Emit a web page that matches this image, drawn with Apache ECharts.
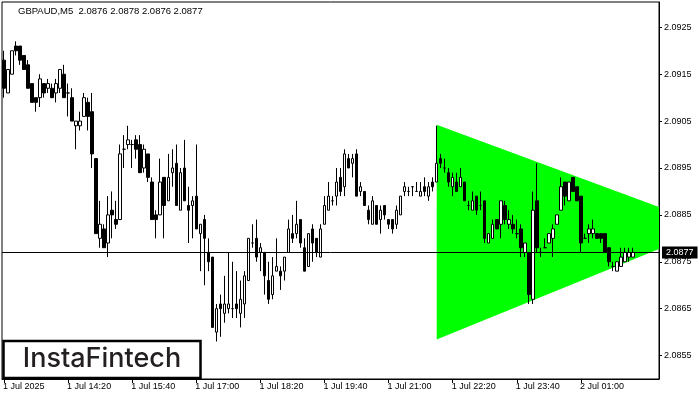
<!DOCTYPE html>
<html><head><meta charset="utf-8">
<script src="https://cdn.jsdelivr.net/npm/echarts@6/dist/echarts.min.js"></script>
<style>html,body{margin:0;padding:0;background:#fff}#c{width:700px;height:400px}</style>
</head><body><div id="c"></div>
<script>
const symbolTitle = 'GBPAUD,M5  2.0876 2.0878 2.0876 2.0877';
const currentPrice = 2.0877;
const xTickLabels = ['1 Jul 2025','1 Jul 14:20','1 Jul 15:40','1 Jul 17:00','1 Jul 18:20','1 Jul 19:40','1 Jul 21:00','1 Jul 22:20','1 Jul 23:40','2 Jul 01:00'];
const yTicks = [2.0855,2.0865,2.0875,2.0885,2.0895,2.0905,2.0915,2.0925];
const yMin = 2.08500, yMax = 2.09304;
const barCount = 164;

const openP = [2.0918,2.0911,2.0915,2.0921,2.0921,2.0919,2.0917,2.0913,2.0910,2.0910,
2.0913,2.0912,2.0912,2.0911,2.0912,2.0915,2.0911,2.0910,2.0904,2.0904,
2.0906,2.0909,2.0907,2.0897,2.0880,2.0882,2.0879,2.0886,2.0884,2.0884,
2.0899,2.0900,2.0900,2.0901,2.0900,2.0895,2.0898,2.0892,2.0885,2.0885,
2.0893,2.0888,2.0894,2.0896,2.0886,2.0895,2.0887,2.0887,2.0889,2.0881,
2.0884,2.0877,2.0876,2.0860,2.0866,2.0864,2.0865,2.0865,2.0866,2.0864,
2.0866,2.0871,2.0879,2.0880,2.0877,2.0877,2.0871,2.0868,2.0873,2.0873,
2.0873,2.0877,2.0881,2.0881,2.0884,2.0878,2.0874,2.0882,2.0880,2.0876,
2.0883,2.0886,2.0888,2.0889,2.0893,2.0891,2.0897,2.0896,2.0898,2.0890,
2.0890,2.0886,2.0883,2.0887,2.0884,2.0887,2.0884,2.0884,2.0883,2.0885,
2.0890,2.0890,2.0891,2.0890,2.0889,2.0891,2.0889,2.0892,2.0892,2.0897,
2.0895,2.0894,2.0891,2.0892,2.0891,2.0892,2.0887,2.0886,2.0889,2.0887,
2.0888,2.0879,2.0880,2.0884,2.0883,2.0887,2.0883,2.0883,2.0881,2.0882,
2.0877,2.0877,2.0867,2.0888,2.0877,2.0878,2.0879,2.0880,2.0883,2.0886,
2.0892,2.0888,2.0893,2.0891,2.0889,2.0880,2.0881,2.0881,2.0881,2.0881,
2.0881,2.0878,2.0874,2.0873,2.0874,2.0875,2.0876,2.0876];
const closeP = [2.0912,2.0916,2.0920,2.0920,2.0918,2.0916,2.0912,2.0909,2.0909,2.0914,
2.0911,2.0913,2.0910,2.0913,2.0916,2.0910,2.0911,2.0905,2.0905,2.0905,
2.0910,2.0906,2.0898,2.0881,2.0883,2.0878,2.0885,2.0885,2.0883,2.0898,
2.0899,2.0901,2.0900,2.0899,2.0894,2.0899,2.0893,2.0884,2.0884,2.0892,
2.0887,2.0893,2.0895,2.0887,2.0894,2.0888,2.0886,2.0888,2.0882,2.0883,
2.0880,2.0875,2.0861,2.0865,2.0865,2.0866,2.0866,2.0865,2.0865,2.0867,
2.0872,2.0880,2.0879,2.0876,2.0878,2.0872,2.0867,2.0872,2.0874,2.0872,
2.0876,2.0882,2.0880,2.0883,2.0879,2.0873,2.0881,2.0879,2.0877,2.0882,
2.0887,2.0889,2.0888,2.0892,2.0890,2.0898,2.0895,2.0897,2.0889,2.0891,
2.0887,2.0884,2.0888,2.0883,2.0886,2.0885,2.0883,2.0882,2.0886,2.0889,
2.0891,2.0890,2.0891,2.0890,2.0890,2.0890,2.0891,2.0891,2.0896,2.0896,
2.0895,2.0892,2.0893,2.0890,2.0893,2.0888,2.0887,2.0888,2.0886,2.0887,
2.0880,2.0881,2.0883,2.0882,2.0888,2.0884,2.0884,2.0882,2.0881,2.0878,
2.0879,2.0868,2.0886,2.0878,2.0877,2.0878,2.0881,2.0882,2.0885,2.0891,
2.0889,2.0892,2.0890,2.0888,2.0879,2.0880,2.0882,2.0882,2.0880,2.0880,
2.0877,2.0875,2.0874,2.0875,2.0876,2.0877,2.0877,2.0877];
const highP = [2.0920,2.0916,2.0920,2.0922,2.0921,2.0919,2.0918,2.0913,2.0910,2.0915,
2.0913,2.0914,2.0913,2.0914,2.0916,2.0917,2.0913,2.0912,2.0905,2.0907,
2.0911,2.0910,2.0911,2.0897,2.0888,2.0883,2.0889,2.0890,2.0888,2.0900,
2.0902,2.0904,2.0901,2.0902,2.0902,2.0900,2.0898,2.0893,2.0886,2.0897,
2.0893,2.0898,2.0899,2.0900,2.0895,2.0901,2.0891,2.0889,2.0900,2.0883,
2.0885,2.0880,2.0876,2.0866,2.0868,2.0872,2.0877,2.0875,2.0873,2.0871,
2.0873,2.0880,2.0883,2.0884,2.0879,2.0877,2.0875,2.0876,2.0880,2.0874,
2.0876,2.0884,2.0885,2.0888,2.0884,2.0880,2.0881,2.0883,2.0880,2.0883,
2.0889,2.0892,2.0889,2.0895,2.0895,2.0899,2.0898,2.0898,2.0899,2.0892,
2.0890,2.0887,2.0889,2.0887,2.0887,2.0887,2.0884,2.0884,2.0887,2.0889,
2.0892,2.0891,2.0891,2.0892,2.0892,2.0893,2.0892,2.0893,2.0904,2.0898,
2.0897,2.0895,2.0894,2.0894,2.0895,2.0892,2.0888,2.0890,2.0889,2.0890,
2.0888,2.0881,2.0884,2.0884,2.0888,2.0888,2.0886,2.0885,2.0884,2.0883,
2.0879,2.0877,2.0890,2.0896,2.0878,2.0880,2.0881,2.0883,2.0885,2.0893,
2.0892,2.0892,2.0893,2.0891,2.0889,2.0881,2.0883,2.0884,2.0881,2.0881,
2.0881,2.0878,2.0875,2.0875,2.0878,2.0878,2.0878,2.0878];
const lowP = [2.0910,2.0911,2.0915,2.0919,2.0917,2.0916,2.0912,2.0909,2.0907,2.0908,
2.0910,2.0911,2.0910,2.0909,2.0911,2.0910,2.0906,2.0905,2.0899,2.0903,
2.0906,2.0903,2.0895,2.0881,2.0878,2.0878,2.0876,2.0880,2.0882,2.0884,
2.0895,2.0899,2.0895,2.0897,2.0894,2.0894,2.0892,2.0884,2.0880,2.0885,
2.0880,2.0888,2.0891,2.0887,2.0886,2.0888,2.0879,2.0880,2.0882,2.0873,
2.0870,2.0873,2.0861,2.0858,2.0859,2.0862,2.0864,2.0863,2.0863,2.0861,
2.0863,2.0871,2.0878,2.0875,2.0873,2.0868,2.0866,2.0867,2.0873,2.0869,
2.0871,2.0877,2.0879,2.0880,2.0878,2.0873,2.0874,2.0875,2.0876,2.0876,
2.0883,2.0886,2.0887,2.0887,2.0889,2.0889,2.0895,2.0893,2.0889,2.0889,
2.0887,2.0883,2.0883,2.0883,2.0881,2.0884,2.0882,2.0881,2.0882,2.0885,
2.0889,2.0889,2.0889,2.0890,2.0889,2.0889,2.0888,2.0890,2.0892,2.0895,
2.0894,2.0891,2.0889,2.0890,2.0891,2.0888,2.0886,2.0886,2.0885,2.0886,
2.0879,2.0879,2.0880,2.0882,2.0880,2.0883,2.0882,2.0881,2.0880,2.0876,
2.0876,2.0866,2.0866,2.0877,2.0876,2.0878,2.0879,2.0876,2.0883,2.0886,
2.0887,2.0888,2.0890,2.0888,2.0877,2.0880,2.0879,2.0880,2.0880,2.0879,
2.0877,2.0874,2.0873,2.0873,2.0874,2.0875,2.0875,2.0876];

// triangle pattern vertices: [bar index, price]
const triIndex = [108, 177, 108];
const triPrice = [2.09042, 2.08824, 2.08584];

const categories = [];
for (let i = 0; i < barCount; i++) {
  const m = 13 * 60 + 5 * i;
  const d = m >= 1440 ? 2 : 1;
  const mm = m % 1440;
  categories.push(d + ' Jul ' + String(Math.floor(mm / 60)).padStart(2, '0') + ':' + String(mm % 60).padStart(2, '0'));
}
const candles = openP.map((o, i) => [o, closeP[i], lowP[i], highP[i]]);
const showTick = (i) => i % 16 === 0 && i / 16 < xTickLabels.length;

const chart = echarts.init(document.getElementById('c'), null, {renderer: 'canvas'});
const FONT = 'Liberation Sans';
chart.setOption({
  animation: false,
  backgroundColor: '#fff',
  grid: {left: 2, top: 2, right: 41, bottom: 21, show: true, borderColor: '#000', borderWidth: 1, backgroundColor: 'transparent'},
  xAxis: {
    type: 'category', data: categories, boundaryGap: true,
    axisLine: {show: true, lineStyle: {color: '#000', width: 1}},
    axisTick: {show: true, alignWithLabel: true, interval: showTick, length: 4, lineStyle: {color: '#000'}},
    axisLabel: {interval: showTick, formatter: (v, i) => xTickLabels[i / 16], align: 'left', margin: 3, color: '#000', fontFamily: FONT, fontSize: 9, padding: [0, 0, 0, -1]},
    splitLine: {show: false}
  },
  yAxis: {
    type: 'value', position: 'right', min: yMin, max: yMax,
    axisLine: {show: true, lineStyle: {color: '#000'}},
    axisTick: {show: true, length: 3, customValues: yTicks, lineStyle: {color: '#000'}},
    axisLabel: {customValues: yTicks, formatter: v => v.toFixed(4), margin: 5, color: '#000', fontFamily: FONT, fontSize: 9},
    splitLine: {show: false}
  },
  series: [
    {
      type: 'custom', name: 'pattern', z: 1,
      data: [[triIndex[0], triPrice[0]]],
      encode: {x: 0, y: 1},
      renderItem: (params, api) => {
        if (params.dataIndex !== 0) return null;
        const p0 = api.coord([triIndex[0], triPrice[0]]);
        const p1 = api.coord([triIndex[1], triPrice[1]]);
        const p2 = api.coord([triIndex[2], triPrice[2]]);
        const cs = params.coordSys;
        const right = cs.x + cs.width;
        let pts;
        if (p1[0] > right) {
          const t0 = (right - p0[0]) / (p1[0] - p0[0]);
          const t2 = (right - p2[0]) / (p1[0] - p2[0]);
          pts = [p0, [right, p0[1] + t0 * (p1[1] - p0[1])], [right, p2[1] + t2 * (p1[1] - p2[1])], p2];
        } else {
          pts = [p0, p1, p2];
        }
        return {type: 'polygon', shape: {points: pts}, style: {fill: '#00ff00', stroke: null}};
      }
    },
    {
      type: 'candlestick', name: 'GBPAUD', z: 3,
      data: candles,
      barWidth: 3,
      itemStyle: {color: '#fff', color0: '#000', borderColor: '#000', borderColor0: '#000', borderColorDoji: '#000', borderWidth: 1}
    },
    {
      type: 'line', name: 'price', z: 4,
      data: [[0, currentPrice]],
      showSymbol: false, symbol: 'none',
      lineStyle: {width: 0},
      markLine: {
        silent: true, symbol: ['none', 'none'], animation: false, precision: 4,
        data: [{yAxis: currentPrice}],
        lineStyle: {color: '#000', width: 1, type: 'solid'},
        label: {show: true, position: 'end', formatter: currentPrice.toFixed(4), color: '#fff', backgroundColor: '#000',
          padding: [2, 4, 1, 4], fontFamily: FONT, fontSize: 9, distance: 3}
      }
    }
  ],
  graphic: [
    {type: 'text', left: 18, top: 6, z: 10, style: {text: symbolTitle, fill: '#000', font: '9.5px "Liberation Sans"'}},
    {type: 'rect', z: 10, shape: {x: 3.5, y: 341, width: 197, height: 37}, style: {fill: '#fff', stroke: '#000', lineWidth: 2.5}},
    {type: 'text', z: 11, x: 102, y: 359, style: {text: 'InstaFintech', fill: '#231f20', font: '500 27px Inter', align: 'center', verticalAlign: 'middle'}}
  ]
});
</script></body></html>
